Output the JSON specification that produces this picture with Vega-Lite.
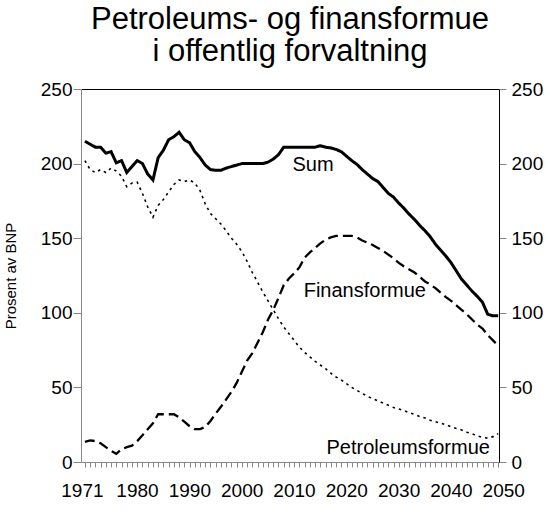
{
  "$schema": "https://vega.github.io/schema/vega-lite/v6.json",
  "width": 418,
  "height": 373,
  "autosize": "none",
  "padding": {"left": 81, "top": 89, "right": 51, "bottom": 68},
  "background": "white",
  "title": {
    "text": ["Petroleums- og finansformue", "i offentlig forvaltning"],
    "fontSize": 31,
    "lineHeight": 32,
    "fontWeight": "normal",
    "anchor": "middle",
    "frame": "group",
    "color": "black",
    "offset": 12
  },
  "datasets": {
    "formue": [
      {"year": 1971, "Sum": 215, "Finansformue": 13.5, "Petroleumsformue": 202},
      {"year": 1972, "Sum": 213, "Finansformue": 14.5, "Petroleumsformue": 196},
      {"year": 1973, "Sum": 211, "Finansformue": 14, "Petroleumsformue": 194},
      {"year": 1974, "Sum": 211, "Finansformue": 12.5, "Petroleumsformue": 196},
      {"year": 1975, "Sum": 207, "Finansformue": 10, "Petroleumsformue": 194},
      {"year": 1976, "Sum": 208, "Finansformue": 7.5, "Petroleumsformue": 197},
      {"year": 1977, "Sum": 200.5, "Finansformue": 5.5, "Petroleumsformue": 195},
      {"year": 1978, "Sum": 202, "Finansformue": 8.5, "Petroleumsformue": 191.5},
      {"year": 1979, "Sum": 194, "Finansformue": 10, "Petroleumsformue": 184.5},
      {"year": 1980, "Sum": 198, "Finansformue": 11, "Petroleumsformue": 187},
      {"year": 1981, "Sum": 202, "Finansformue": 14, "Petroleumsformue": 187.5},
      {"year": 1982, "Sum": 200, "Finansformue": 18, "Petroleumsformue": 180},
      {"year": 1983, "Sum": 193, "Finansformue": 22, "Petroleumsformue": 171},
      {"year": 1984, "Sum": 189, "Finansformue": 26, "Petroleumsformue": 164},
      {"year": 1985, "Sum": 204, "Finansformue": 32, "Petroleumsformue": 172},
      {"year": 1986, "Sum": 209, "Finansformue": 32, "Petroleumsformue": 176},
      {"year": 1987, "Sum": 216, "Finansformue": 32, "Petroleumsformue": 181},
      {"year": 1988, "Sum": 218, "Finansformue": 32, "Petroleumsformue": 186},
      {"year": 1989, "Sum": 221, "Finansformue": 30, "Petroleumsformue": 189},
      {"year": 1990, "Sum": 216, "Finansformue": 27, "Petroleumsformue": 188},
      {"year": 1991, "Sum": 214, "Finansformue": 24, "Petroleumsformue": 189},
      {"year": 1992, "Sum": 208, "Finansformue": 22, "Petroleumsformue": 187},
      {"year": 1993, "Sum": 204, "Finansformue": 22, "Petroleumsformue": 182},
      {"year": 1994, "Sum": 199, "Finansformue": 23.5, "Petroleumsformue": 173},
      {"year": 1995, "Sum": 196, "Finansformue": 27.5, "Petroleumsformue": 166.5},
      {"year": 1996, "Sum": 195.5, "Finansformue": 32.5, "Petroleumsformue": 163},
      {"year": 1997, "Sum": 195.5, "Finansformue": 37, "Petroleumsformue": 159.5},
      {"year": 1998, "Sum": 197, "Finansformue": 42, "Petroleumsformue": 155},
      {"year": 1999, "Sum": 198, "Finansformue": 47, "Petroleumsformue": 150},
      {"year": 2000, "Sum": 199, "Finansformue": 53, "Petroleumsformue": 146},
      {"year": 2001, "Sum": 200, "Finansformue": 60.5, "Petroleumsformue": 141},
      {"year": 2002, "Sum": 200, "Finansformue": 68, "Petroleumsformue": 134.5},
      {"year": 2003, "Sum": 200, "Finansformue": 73, "Petroleumsformue": 127},
      {"year": 2004, "Sum": 200, "Finansformue": 80, "Petroleumsformue": 120.5},
      {"year": 2005, "Sum": 200, "Finansformue": 87, "Petroleumsformue": 114},
      {"year": 2006, "Sum": 201, "Finansformue": 95.5, "Petroleumsformue": 108},
      {"year": 2007, "Sum": 203, "Finansformue": 102, "Petroleumsformue": 102},
      {"year": 2008, "Sum": 206, "Finansformue": 110, "Petroleumsformue": 96},
      {"year": 2009, "Sum": 211, "Finansformue": 118.5, "Petroleumsformue": 90.5},
      {"year": 2010, "Sum": 211, "Finansformue": 123, "Petroleumsformue": 86},
      {"year": 2011, "Sum": 211, "Finansformue": 126.5, "Petroleumsformue": 81.5},
      {"year": 2012, "Sum": 211, "Finansformue": 130.5, "Petroleumsformue": 77},
      {"year": 2013, "Sum": 211, "Finansformue": 137, "Petroleumsformue": 73.5},
      {"year": 2014, "Sum": 211, "Finansformue": 140.5, "Petroleumsformue": 70.5},
      {"year": 2015, "Sum": 211, "Finansformue": 143.5, "Petroleumsformue": 67.5},
      {"year": 2016, "Sum": 212, "Finansformue": 146.5, "Petroleumsformue": 65},
      {"year": 2017, "Sum": 211, "Finansformue": 149, "Petroleumsformue": 62.5},
      {"year": 2018, "Sum": 210.5, "Finansformue": 150.5, "Petroleumsformue": 59.5},
      {"year": 2019, "Sum": 209.5, "Finansformue": 151.5, "Petroleumsformue": 57},
      {"year": 2020, "Sum": 208, "Finansformue": 151.5, "Petroleumsformue": 55},
      {"year": 2021, "Sum": 205, "Finansformue": 151.5, "Petroleumsformue": 52.5},
      {"year": 2022, "Sum": 202, "Finansformue": 151.5, "Petroleumsformue": 50},
      {"year": 2023, "Sum": 199.5, "Finansformue": 150.5, "Petroleumsformue": 48},
      {"year": 2024, "Sum": 196, "Finansformue": 148.5, "Petroleumsformue": 46},
      {"year": 2025, "Sum": 193, "Finansformue": 147, "Petroleumsformue": 44},
      {"year": 2026, "Sum": 190, "Finansformue": 145.5, "Petroleumsformue": 42.5},
      {"year": 2027, "Sum": 188, "Finansformue": 143.5, "Petroleumsformue": 41},
      {"year": 2028, "Sum": 184, "Finansformue": 141.5, "Petroleumsformue": 39.5},
      {"year": 2029, "Sum": 180, "Finansformue": 139, "Petroleumsformue": 38},
      {"year": 2030, "Sum": 177.5, "Finansformue": 136.5, "Petroleumsformue": 36.5},
      {"year": 2031, "Sum": 173.5, "Finansformue": 133.5, "Petroleumsformue": 35.5},
      {"year": 2032, "Sum": 170, "Finansformue": 131, "Petroleumsformue": 34.5},
      {"year": 2033, "Sum": 166, "Finansformue": 129, "Petroleumsformue": 33},
      {"year": 2034, "Sum": 162.5, "Finansformue": 127, "Petroleumsformue": 32},
      {"year": 2035, "Sum": 158.5, "Finansformue": 124, "Petroleumsformue": 30.5},
      {"year": 2036, "Sum": 155, "Finansformue": 121, "Petroleumsformue": 29.5},
      {"year": 2037, "Sum": 151, "Finansformue": 119, "Petroleumsformue": 28},
      {"year": 2038, "Sum": 146, "Finansformue": 116.5, "Petroleumsformue": 27},
      {"year": 2039, "Sum": 142, "Finansformue": 113.5, "Petroleumsformue": 26},
      {"year": 2040, "Sum": 138, "Finansformue": 110.5, "Petroleumsformue": 25},
      {"year": 2041, "Sum": 133.5, "Finansformue": 108, "Petroleumsformue": 23.5},
      {"year": 2042, "Sum": 128, "Finansformue": 105, "Petroleumsformue": 22.5},
      {"year": 2043, "Sum": 122.5, "Finansformue": 102, "Petroleumsformue": 21.5},
      {"year": 2044, "Sum": 118.5, "Finansformue": 99, "Petroleumsformue": 20},
      {"year": 2045, "Sum": 114.5, "Finansformue": 95.5, "Petroleumsformue": 19},
      {"year": 2046, "Sum": 111, "Finansformue": 92, "Petroleumsformue": 17.5},
      {"year": 2047, "Sum": 107, "Finansformue": 89.5, "Petroleumsformue": 16.5},
      {"year": 2048, "Sum": 99, "Finansformue": 85, "Petroleumsformue": 16},
      {"year": 2049, "Sum": 98, "Finansformue": 81.5, "Petroleumsformue": 17},
      {"year": 2050, "Sum": 98, "Finansformue": 78, "Petroleumsformue": 19}
    ],
    "etiketter": [
      {"year": 2014.6, "value": 194.9, "label": "Sum"},
      {"year": 2024.5, "value": 110.5, "label": "Finansformue"},
      {"year": 2032.8, "value": 5.2, "label": "Petroleumsformue"}
    ]
  },
  "layer": [
    {
      "data": {"name": "formue"},
      "transform": [
        {"fold": ["Sum", "Finansformue", "Petroleumsformue"], "as": ["series", "value"]}
      ],
      "mark": {"type": "line", "color": "black", "strokeCap": "butt"},
      "encoding": {
        "x": {
          "field": "year",
          "type": "quantitative",
          "scale": {"domain": [1970.25, 2050.15], "nice": false, "zero": false},
          "axis": {
            "orient": "bottom",
            "title": null,
            "grid": false,
            "values": [1971, 1972, 1973, 1974, 1975, 1976, 1977, 1978, 1979, 1980, 1981, 1982, 1983, 1984, 1985, 1986, 1987, 1988, 1989, 1990, 1991, 1992, 1993, 1994, 1995, 1996, 1997, 1998, 1999, 2000, 2001, 2002, 2003, 2004, 2005, 2006, 2007, 2008, 2009, 2010, 2011, 2012, 2013, 2014, 2015, 2016, 2017, 2018, 2019, 2020, 2021, 2022, 2023, 2024, 2025, 2026, 2027, 2028, 2029, 2030, 2031, 2032, 2033, 2034, 2035, 2036, 2037, 2038, 2039, 2040, 2041, 2042, 2043, 2044, 2045, 2046, 2047, 2048, 2049, 2050],
            "labelExpr": "datum.value == 1971 || datum.value % 10 == 0 ? datum.value : ''",
            "labelOverlap": false,
            "labelFlush": false,
            "labelBound": false,
            "labelFontSize": 19,
            "labelColor": "black",
            "labelPadding": 14,
            "labelOffset": {"condition": {"test": "datum.value == 1971", "value": -3}, "value": 5},
            "tickSize": 5,
            "tickColor": "#888888",
            "domainColor": "#888888"
          }
        },
        "y": {
          "field": "value",
          "type": "quantitative",
          "scale": {"domain": [0, 250], "nice": false},
          "axis": {
            "orient": "left",
            "title": "Prosent av BNP",
            "titleFontSize": 15,
            "titleFontWeight": "normal",
            "titleColor": "black",
            "titlePadding": 22,
            "grid": false,
            "values": [0, 50, 100, 150, 200, 250],
            "labelFontSize": 19,
            "labelColor": "black",
            "labelPadding": 1,
            "tickSize": 8,
            "tickColor": "#888888",
            "domainColor": "#888888"
          }
        },
        "detail": {"field": "series"},
        "strokeDash": {
          "field": "series",
          "scale": {"domain": ["Sum", "Finansformue", "Petroleumsformue"], "range": [[1, 0], [10, 5], [2.5, 4]]},
          "legend": null
        },
        "strokeWidth": {
          "field": "series",
          "scale": {"domain": ["Sum", "Finansformue", "Petroleumsformue"], "range": [3, 1.6, 1.6]},
          "legend": null
        }
      }
    },
    {
      "data": {"name": "etiketter"},
      "mark": {"type": "text", "fontSize": 20, "color": "black", "align": "center", "baseline": "alphabetic"},
      "encoding": {
        "x": {
          "field": "year",
          "type": "quantitative",
          "axis": {"orient": "top", "title": null, "labels": false, "ticks": false, "grid": false, "domainColor": "black"}
        },
        "y": {
          "field": "value",
          "type": "quantitative",
          "axis": {
            "orient": "right",
            "title": null,
            "grid": false,
            "values": [0, 50, 100, 150, 200, 250],
            "labelFontSize": 19,
            "labelColor": "black",
            "labelPadding": 5,
            "tickSize": 7,
            "tickColor": "#888888",
            "domainColor": "black"
          }
        },
        "text": {"field": "label"}
      }
    }
  ],
  "resolve": {"axis": {"x": "independent", "y": "independent"}},
  "config": {
    "font": "Liberation Sans",
    "view": {"stroke": null},
    "axis": {"domainWidth": 1, "tickWidth": 1}
  }
}
